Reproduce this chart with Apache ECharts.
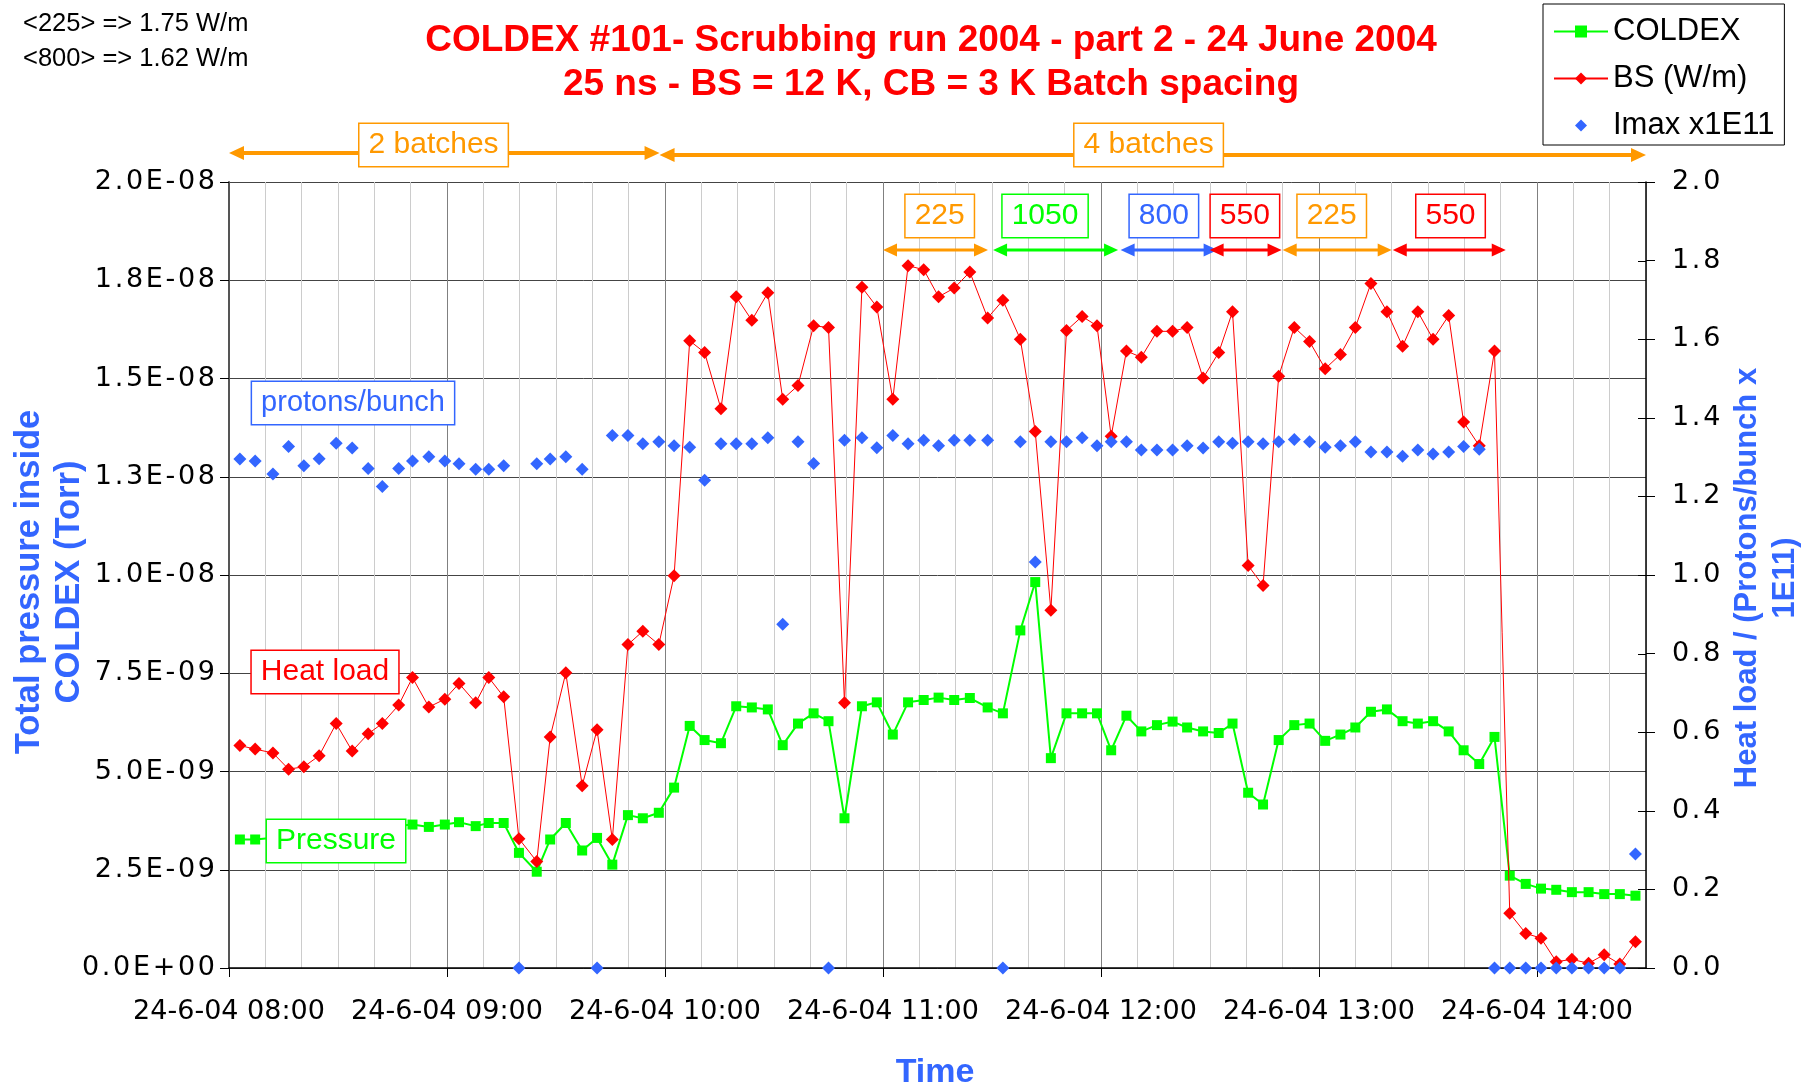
<!DOCTYPE html>
<html>
<head>
<meta charset="utf-8">
<title>COLDEX #101 - Scrubbing run 2004</title>
<script src="https://cdn.jsdelivr.net/npm/echarts@6/dist/echarts.min.js"></script>
<style>
  html, body { margin: 0; padding: 0; background: #fff; }
  #chart { width: 1814px; height: 1086px; }
</style>
</head>
<body>
<div id="chart"></div>
<script>
const GREEN = '#00FF00';
const RED = '#FF0000';
const BLUE = '#3366FF';
const ORANGE = '#FF9900';

// minutes after 24-6-04 08:00
const timeMin = [
  3.0, 7.2, 12.1, 16.4, 20.6, 24.8, 29.5, 33.9, 38.3, 42.2, 46.7, 50.5, 55.0, 59.4, 63.3,
  67.9, 71.5, 75.6, 79.8, 84.7, 88.4, 92.7, 97.2, 101.3, 105.5, 109.8, 113.9, 118.3, 122.5, 126.8, 130.9,
  135.4, 139.6, 143.9, 148.3, 152.4, 156.6, 160.9, 165.0, 169.4, 174.2, 178.3, 182.7, 186.9, 191.2, 195.3,
  199.6, 203.9, 208.8, 213.0, 217.8, 221.9, 226.2, 230.5, 234.8, 238.9, 242.8, 247.0, 251.1, 255.4, 259.7, 263.7,
  268.1, 272.4, 276.2, 280.5, 284.6, 288.9, 293.2, 297.4, 301.7, 305.9, 310.0, 314.3, 318.7, 323.0, 327.2,
  331.4, 335.7, 339.8, 344.1, 348.3, 352.5, 356.9, 361.1, 365.3, 369.6, 374.2, 378.5, 382.8, 387.1
];

// COLDEX total pressure, in units of 1E-09 Torr (null = hidden behind the "Pressure" label)
const coldexE9 = [
  3.27, 3.27, null, null, null, null, null, null, null, null, null, 3.65, 3.59, 3.65, 3.71,
  3.61, 3.69, 3.69, 2.93, 2.45, 3.27, 3.69, 2.99, 3.31, 2.63, 3.89, 3.81, 3.95, 4.59, 6.16, 5.80,
  5.72, 6.66, 6.63, 6.58, 5.67, 6.22, 6.48, 6.28, 3.81, 6.66, 6.76, 5.94, 6.76, 6.82, 6.88,
  6.82, 6.87, 6.63, 6.48, 8.59, 9.82, 5.34, 6.48, 6.48, 6.48, 5.54, 6.42, 6.02, 6.18, 6.27, 6.12,
  6.02, 5.98, 6.22, 4.46, 4.16, 5.80, 6.18, 6.22, 5.78, 5.94, 6.12, 6.52, 6.58, 6.28, 6.22,
  6.28, 6.02, 5.54, 5.19, 5.88, 2.35, 2.14, 2.02, 1.99, 1.93, 1.93, 1.88, 1.88, 1.84
];

// beam screen heat load, W/m
const bsHeat = [
  0.566, 0.557, 0.547, 0.506, 0.512, 0.540, 0.622, 0.552, 0.596, 0.622, 0.669, 0.739, 0.664, 0.684, 0.724,
  0.675, 0.739, 0.690, 0.329, 0.271, 0.588, 0.751, 0.464, 0.606, 0.327, 0.823, 0.857, 0.823, 0.998, 1.596, 1.566,
  1.423, 1.708, 1.648, 1.718, 1.447, 1.482, 1.634, 1.630, 0.675, 1.732, 1.682, 1.447, 1.787, 1.777, 1.708,
  1.730, 1.771, 1.654, 1.699, 1.600, 1.365, 0.910, 1.622, 1.658, 1.634, 1.353, 1.570, 1.554, 1.620, 1.620, 1.630,
  1.501, 1.566, 1.670, 1.024, 0.973, 1.506, 1.630, 1.594, 1.525, 1.561, 1.630, 1.742, 1.670, 1.582, 1.670,
  1.600, 1.660, 1.389, 1.329, 1.570, 0.139, 0.088, 0.076, 0.016, 0.022, 0.012, 0.034, 0.010, 0.067
];

// Imax, protons/bunch x1E11
const imax = [
  1.295, 1.290, 1.257, 1.327, 1.278, 1.296, 1.335, 1.323, 1.271, 1.225, 1.271, 1.290, 1.301, 1.290, 1.283,
  1.269, 1.269, 1.278, 0, 1.283, 1.295, 1.301, 1.269, 0, 1.355, 1.355, 1.334, 1.339, 1.329, 1.325, 1.241,
  1.334, 1.334, 1.334, 1.349, 0.875, 1.339, 1.284, 0, 1.343, 1.349, 1.324, 1.355, 1.334, 1.343, 1.329,
  1.343, 1.343, 1.343, 0, 1.339, 1.033, 1.339, 1.339, 1.349, 1.329, 1.339, 1.339, 1.318, 1.318, 1.318, 1.329,
  1.323, 1.339, 1.335, 1.339, 1.334, 1.339, 1.345, 1.339, 1.325, 1.329, 1.339, 1.313, 1.313, 1.302, 1.318,
  1.308, 1.313, 1.327, 1.320, 0, 0, 0, 0, 0, 0, 0, 0, 0, 0.290
];

// right axis ticks
const rightTicks = [0, 0.2, 0.4, 0.6, 0.8, 1.0, 1.2, 1.4, 1.6, 1.8, 2.0];

// annotated time spans (minutes after 08:00)
const batchSpans = [
  { label: '2 batches', from: 0, to: 118.5, labelAt: 56.3 },
  { label: '4 batches', from: 118.5, to: 390, labelAt: 253.1 }
];
const fillSpans = [
  { label: '225', from: 180.0, to: 208.9, labelAt: 195.6, color: ORANGE },
  { label: '1050', from: 210.3, to: 244.7, labelAt: 224.6, color: GREEN },
  { label: '800', from: 245.4, to: 272.1, labelAt: 257.3, color: BLUE },
  { label: '550', from: 269.9, to: 289.7, labelAt: 279.6, color: RED },
  { label: '225', from: 290.0, to: 320.0, labelAt: 303.5, color: ORANGE },
  { label: '550', from: 320.3, to: 351.4, labelAt: 336.2, color: RED }
];

const FONT = '"Liberation Sans", Arial, sans-serif';
const TICK_FONT = '"DejaVu Sans", sans-serif';
const HAIR = '\u200A';

// spread characters a little, like the original axis labels
const spaced = s => s.split('').join(HAIR);

function sciLabel(v) {
  // v is in 1E-09 Torr
  if (v === 0) return spaced('0.0E+00');
  let e = Math.floor(Math.log10(v) + 1e-9);
  let m = Math.round(v / Math.pow(10, e) * 10 + 1e-6) / 10;
  if (m >= 10) { m /= 10; e += 1; }
  e -= 9;
  return spaced(m.toFixed(1) + 'E' + (e < 0 ? '-' : '+') + String(Math.abs(e)).padStart(2, '0'));
}

function timeLabel(v) {
  const h = 8 + Math.round(v / 60);
  return '24-6-04 ' + String(h).padStart(2, '0') + ':00';
}

function pairs(values) {
  return timeMin.map((t, i) => [t, values[i]]).filter(p => p[1] != null);
}

const chart = echarts.init(document.getElementById('chart'));

const GRID = { left: 229, right: 168, top: 182, bottom: 118 };
const rightEdge = 1814 - GRID.right;

const option = {
  animation: false,
  backgroundColor: '#fff',
  grid: GRID,
  legend: {
    orient: 'vertical',
    left: 1543,
    top: 4,
    padding: [12, 10, 4, 10],
    itemWidth: 54,
    itemHeight: 15,
    itemGap: 16,
    borderColor: '#000',
    borderWidth: 1,
    backgroundColor: '#fff',
    textStyle: { fontFamily: FONT, fontSize: 31, color: '#000' },
    data: ['COLDEX', 'BS (W/m)', 'Imax x1E11']
  },
  xAxis: [
    {
      type: 'value', min: 0, max: 390, interval: 60,
      axisLine: { onZero: false, lineStyle: { color: '#000', width: 1.5 } },
      axisTick: { length: 9, lineStyle: { color: '#000' } },
      axisLabel: {
        margin: 30, fontFamily: TICK_FONT, fontSize: 27, color: '#000',
        showMaxLabel: false, formatter: timeLabel
      },
      splitLine: { show: false }
    },
    {
      // 10-minute grid, hour lines darker
      type: 'value', min: 0, max: 390, interval: 10, position: 'bottom',
      axisLine: { show: false, onZero: false }, axisTick: { show: false }, axisLabel: { show: false },
      splitLine: {
        show: true,
        lineStyle: { color: ['#808080', '#cccccc', '#cccccc', '#cccccc', '#cccccc', '#cccccc'], width: 1 }
      }
    }
  ],
  yAxis: [
    {
      type: 'value', min: 0, max: 20, interval: 2.5, position: 'left',
      axisLine: { show: true, onZero: false, lineStyle: { color: '#555', width: 2 } },
      axisTick: { show: true, length: 9, lineStyle: { color: '#000' } },
      axisLabel: { margin: 14, fontFamily: TICK_FONT, fontSize: 27, color: '#000', formatter: sciLabel },
      splitLine: { show: true, lineStyle: { color: '#444', width: 1 } }
    },
    {
      type: 'value', min: 0, max: 2, interval: 0.2, position: 'right',
      axisLine: { show: true, onZero: false, lineStyle: { color: '#000', width: 1.5 } },
      axisTick: { show: true, length: 9, lineStyle: { color: '#000' } },
      axisLabel: { margin: 26, fontFamily: TICK_FONT, fontSize: 27, color: '#000', formatter: v => spaced(v.toFixed(1)) },
      splitLine: { show: false }
    }
  ],
  series: [
    {
      name: 'COLDEX', type: 'line', xAxisIndex: 0, yAxisIndex: 0,
      data: pairs(coldexE9),
      symbol: 'rect', symbolSize: 10,
      lineStyle: { color: GREEN, width: 2 },
      itemStyle: { color: GREEN },
      z: 2
    },
    {
      name: 'BS (W/m)', type: 'line', xAxisIndex: 0, yAxisIndex: 1,
      data: pairs(bsHeat),
      symbol: 'diamond', symbolSize: 13,
      lineStyle: { color: RED, width: 1 },
      itemStyle: { color: RED },
      z: 3
    },
    {
      // markers only; a line series with an invisible line so the legend keeps a plain diamond
      name: 'Imax x1E11', type: 'line', xAxisIndex: 0, yAxisIndex: 1,
      data: pairs(imax),
      symbol: 'diamond', symbolSize: 13,
      lineStyle: { width: 0, opacity: 0 },
      itemStyle: { color: BLUE },
      z: 4
    }
  ]
};

chart.setOption(option);

function arrow(x1, x2, y, color, width, head, half) {
  const z = 100;
  return [
    { type: 'line', z, shape: { x1: x1 + head - 1, y1: y, x2: x2 - head + 1, y2: y }, style: { stroke: color, lineWidth: width } },
    { type: 'polygon', z, shape: { points: [[x1, y], [x1 + head, y - half], [x1 + head, y + half]] }, style: { fill: color } },
    { type: 'polygon', z, shape: { points: [[x2, y], [x2 - head, y - half], [x2 - head, y + half]] }, style: { fill: color } }
  ];
}

function boxText(text, x, y, color, size) {
  return {
    type: 'text', x, y, z: 110,
    style: {
      text, fill: color,
      font: (size || 30) + 'px ' + FONT,
      align: 'center', verticalAlign: 'middle',
      backgroundColor: '#fff', borderColor: color, borderWidth: 1.5,
      padding: [5, 9, 4, 9], lineHeight: 33
    }
  };
}

function label(text, x, y, font, color, align, extra) {
  return Object.assign({
    type: 'text', x, y, z: 110,
    style: { text, font, fill: color, align: align || 'center', verticalAlign: 'middle', lineHeight: 40 }
  }, extra || {});
}

const px = t => chart.convertToPixel({ xAxisIndex: 0 }, t);
const pyRight = v => chart.convertToPixel({ yAxisIndex: 1 }, v);

const graphics = [];

// inner half of the crossing ticks on the right axis
rightTicks.forEach(v => {
  const y = Math.round(pyRight(v)) + 0.5;
  graphics.push({ type: 'line', z: 50, shape: { x1: rightEdge - 8, y1: y, x2: rightEdge, y2: y }, style: { stroke: '#000', lineWidth: 1 } });
});

batchSpans.forEach((s, i) => {
  const y = i === 0 ? 153 : 155;
  graphics.push(...arrow(px(s.from), px(s.to), y, ORANGE, 4, 15, 7));
  graphics.push(boxText(s.label, px(s.labelAt), 145, ORANGE));
});

fillSpans.forEach(s => {
  graphics.push(...arrow(px(s.from), px(s.to), 250, s.color, 3, 14, 6.5));
  graphics.push(boxText(s.label, px(s.labelAt), 216, s.color));
});

graphics.push(boxText('protons/bunch', 353, 403, BLUE, 29));
graphics.push(boxText('Heat load', 325, 672, RED));
graphics.push(boxText('Pressure', 336, 841, GREEN));

// title
graphics.push(label('COLDEX #101- Scrubbing run 2004 - part 2 - 24 June 2004', 931, 41, 'bold 37px ' + FONT, RED));
graphics.push(label('25 ns - BS = 12 K, CB = 3 K Batch spacing', 931, 85, 'bold 37px ' + FONT, RED));

// corner notes
graphics.push(label('<225> => 1.75 W/m', 23, 24, '25.5px ' + FONT, '#000', 'left'));
graphics.push(label('<800> => 1.62 W/m', 23, 59, '25.5px ' + FONT, '#000', 'left'));

// axis names
graphics.push(label('Total pressure inside\nCOLDEX (Torr)', 49, 582, 'bold 34.5px ' + FONT, BLUE, 'center', { rotation: Math.PI / 2 }));
const rightName = label('Heat load / (Protons/bunch x\n1E11)', 1766, 578, 'bold 31px ' + FONT, BLUE, 'center', { rotation: Math.PI / 2 });
rightName.style.lineHeight = 38;
graphics.push(rightName);
graphics.push(label('Time', 935, 1073, 'bold 34px ' + FONT, BLUE));

chart.setOption({ graphic: graphics });

window.addEventListener('resize', () => chart.resize());
</script>
</body>
</html>
